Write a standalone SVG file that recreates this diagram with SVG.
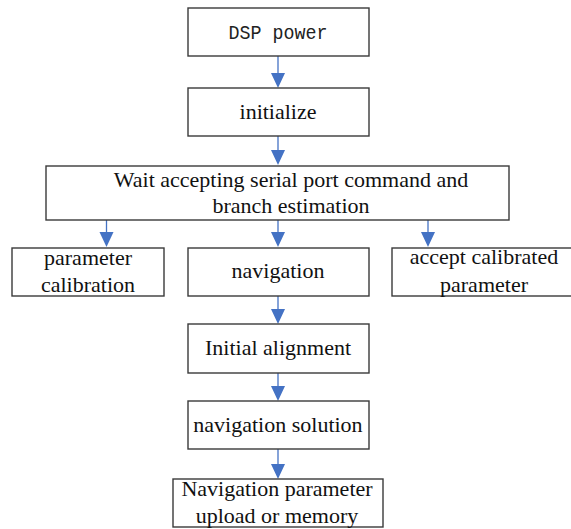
<svg xmlns="http://www.w3.org/2000/svg" width="571" height="529" viewBox="0 0 571 529">
<defs>
<style>
.box{fill:#fff;stroke:#3a3a3a;stroke-width:1.4}
.t{font-family:"Liberation Serif","Times New Roman",serif;font-size:22px;fill:#111;text-anchor:middle}
.m{font-family:"Liberation Mono","Courier New",monospace;font-size:20px;fill:#222;text-anchor:middle}
.c{stroke:#4472C4;stroke-width:1.3;fill:none}
.h{fill:#4472C4;stroke:none}
</style>
</defs>
<rect width="571" height="529" fill="#fff"/>
<g id="connectors">
<line class="c" x1="278" y1="56" x2="278" y2="75"/><polygon class="h" points="271,73 285,73 278,88"/>
<line class="c" x1="278" y1="136" x2="278" y2="152"/><polygon class="h" points="271,150 285,150 278,165"/>
<line class="c" x1="278" y1="220" x2="278" y2="234"/><polygon class="h" points="271,232 285,232 278,247"/>
<line class="c" x1="106.5" y1="214" x2="106.5" y2="234"/><polygon class="h" points="99.5,232 113.5,232 106.5,247"/>
<line class="c" x1="428" y1="214" x2="428" y2="234"/><polygon class="h" points="421,232 435,232 428,247"/>
<line class="c" x1="278" y1="296" x2="278" y2="311"/><polygon class="h" points="271,309 285,309 278,324"/>
<line class="c" x1="278" y1="373" x2="278" y2="388"/><polygon class="h" points="271,386 285,386 278,401"/>
<line class="c" x1="278" y1="449" x2="278" y2="466"/><polygon class="h" points="271,464 285,464 278,479"/>
</g>
<g id="dsp-power">
<rect class="box" x="188" y="8" width="181" height="48"/>
<text class="m" x="278" y="39" textLength="99" lengthAdjust="spacingAndGlyphs">DSP power</text>
</g>
<g id="initialize">
<rect class="box" x="188" y="88" width="181" height="48"/>
<text class="t" x="278" y="119">initialize</text>
</g>
<g id="wait">
<rect class="box" x="46" y="166" width="463" height="54"/>
<text class="t" x="291" y="187">Wait accepting serial port command and</text>
<text class="t" x="291" y="213">branch estimation</text>
</g>
<g id="parameter-calibration">
<rect class="box" x="12" y="248" width="152" height="48"/>
<text class="t" x="88" y="265">parameter</text>
<text class="t" x="88" y="292">calibration</text>
</g>
<g id="navigation">
<rect class="box" x="188" y="248" width="181" height="48"/>
<text class="t" x="278" y="278">navigation</text>
</g>
<g id="accept-calibrated">
<rect class="box" x="392" y="248" width="182" height="48"/>
<text class="t" x="484" y="264">accept calibrated</text>
<text class="t" x="484" y="292">parameter</text>
</g>
<g id="initial-alignment">
<rect class="box" x="188" y="324" width="181" height="49"/>
<text class="t" x="278" y="355">Initial alignment</text>
</g>
<g id="navigation-solution">
<rect class="box" x="188" y="401" width="181" height="48"/>
<text class="t" x="278" y="432">navigation solution</text>
</g>
<g id="navigation-parameter">
<rect class="box" x="173" y="479" width="210" height="48"/>
<text class="t" x="277" y="496">Navigation parameter</text>
<text class="t" x="277" y="523">upload or memory</text>
</g>
</svg>
